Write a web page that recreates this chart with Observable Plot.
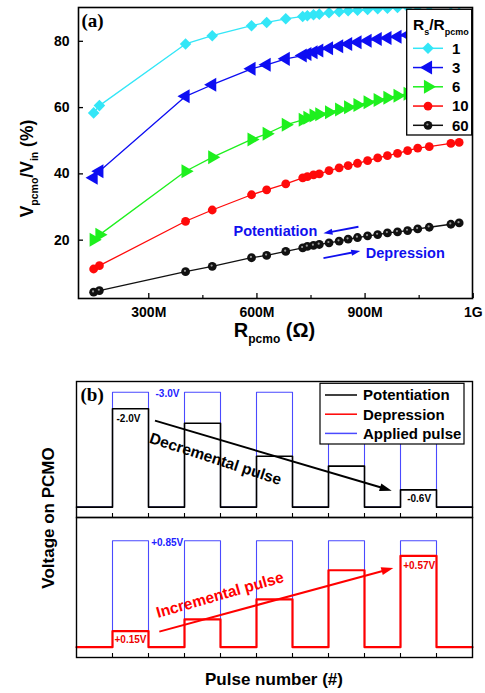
<!DOCTYPE html>
<html><head><meta charset="utf-8">
<script src="https://cdn.jsdelivr.net/npm/d3@7"></script>
<script src="https://cdn.jsdelivr.net/npm/@observablehq/plot@0.6"></script>
<style>
body{margin:0;background:#fff;}
#wrap{position:relative;width:485px;height:693px;overflow:hidden;background:#fff;}
#wrap svg{position:absolute;left:0;}
</style></head><body><div id="wrap"></div>
<script>
// ---------- Panel (a) data ----------
const rPcmo   = [147,163,402,476,585,627,680,727,740,757,773,800,828,853,879,907,935,962,990,1018,1046,1078,1138,1161]; // MΩ
const ratio1  = [58.4,60.6,79.2,81.7,84.7,85.7,86.8,87.5,87.7,88.0,88.2,88.6,88.9,89.2,89.4,89.6,89.8,90.0,90.2,90.4,90.6,90.8,91.2,91.3];
const ratio3  = [38.8,40.8,63.4,66.9,71.7,72.9,74.7,75.7,76.2,76.7,77.2,77.9,78.5,79.2,79.7,80.2,80.7,81.0,81.4,81.9,82.3,82.7,83.5,83.8];
const ratio6  = [20.1,21.6,40.8,45.0,50.4,52.1,54.8,56.3,56.9,57.6,58.0,58.6,59.4,60.1,60.8,61.6,62.3,63.0,63.6,64.2,64.8,65.4,66.5,66.9];
const ratio10 = [11.3,12.3,25.7,29.1,33.7,35.2,37.0,38.8,39.2,39.7,40.0,41.0,41.8,42.5,43.2,44.0,44.8,45.5,46.2,47.0,47.8,48.2,49.2,49.5];
const ratio60 = [4.3,4.8,10.5,12.1,14.7,15.4,16.6,17.7,18.1,18.4,18.7,19.2,19.7,20.3,20.8,21.3,21.7,22.2,22.5,22.9,23.4,23.9,24.8,25.2];
const ratioLabels = ["1","3","6","10","60"];
const xTickValues = [300,600,900,1200];
const xTickLabels = ["300M","600M","900M","1G"];
const xMinorTicks = [450,750,1050];
const yTickValues = [20,40,60,80];
const annotTexts  = [{label:"Potentiation", r:535, v:22.8},{label:"Depression", r:902, v:16.05}];
const annotArrows = [{x1:883, y1:23.9, x2:786, y2:21.9},{x1:786, y1:14.4, x2:888, y2:16.6}];

// ---------- Panel (b) data ----------
const pulseNumber = [1,2,3,4,5];
const appliedPot  = [1,1,1,1,1];               // -3.0 V applied (normalized)
const potLevels   = [0.856,0.730,0.443,0.357,0.150];
const appliedDep  = [1,1,1,1,1];               // +0.85 V applied (normalized)
const depLevels   = [0.151,0.261,0.450,0.723,0.858];
const pulseTicks  = [1,2,3,4,5,6,7,8,9,10];
const legendB     = ["Potentiation","Depression","Applied pulse"];
const topLabels   = [{text:"-3.0V", t:2.194, v:0.982, c:"#2222ff"},{text:"-2.0V", t:1.111, v:0.767, c:"#000"},{text:"-0.6V", t:9.186, v:0.071, c:"#000"}];
const botLabels   = [{text:"+0.85V", t:2.075, v:0.980, c:"#2222ff"},{text:"+0.15V", t:1.056, v:0.068, c:"#ee0000"},{text:"+0.57V", t:9.075, v:0.763, c:"#ee0000"}];
const decArrow    = [{x1:2.194, y1:0.748, x2:8.769, y2:0.139}];
const incArrow    = [{x1:2.314, y1:0.1415, x2:8.814, y2:0.739}];
const decText     = [{text:"Decremental pulse", t:3.861, v:0.418}];
const incText     = [{text:"Incremental pulse", t:3.986, v:0.49}];

// ---------- styles ----------
const SANS = "Liberation Sans, Arial, Helvetica, sans-serif";
const SERIF = "Liberation Serif, Times New Roman, serif";
const seriesStyles = [
  {color:"#33e6f7", symbol:"diamond2", r:5.2, rotate:0},
  {color:"#0d0df2", symbol:"triangle", r:5.2, rotate:-90},
  {color:"#1ef01e", symbol:"triangle", r:5.2, rotate:90},
  {color:"#ff0a0a", symbol:"circle", r:4.4, rotate:0},
  {color:"#111111", symbol:"circle", r:4.4, rotate:0, sphere:true}
];
const W = 485;
const wrap = document.getElementById("wrap");

function richText(sel, {x, y, rotate=0, size, anchor="middle", parts, fill="#000", family=SANS, subRatio=0.6}) {
  const t = sel.append("text")
    .attr("transform", `translate(${x},${y}) rotate(${rotate})`)
    .attr("text-anchor", anchor).attr("font-size", size).attr("font-weight", "bold")
    .attr("font-family", family).attr("fill", fill).style("white-space", "pre");
  let shifted = false;
  parts.forEach(([s, sub]) => {
    const ts = t.append("tspan").text(s);
    if (sub) { ts.attr("font-size", size*subRatio); if (!shifted) { ts.attr("dy", size*0.3); shifted = true; } }
    else if (shifted) { ts.attr("dy", -size*0.3); shifted = false; }
  });
  return t;
}
function plainText(sel, x, y, text, size) {
  return sel.append("text").attr("x",x).attr("y",y).attr("dy","0.36em").attr("text-anchor","start")
    .attr("font-size",size).attr("font-weight","bold").attr("font-family",SANS).attr("fill","#000").text(text);
}
// arrow with filled head, positioned through the chart's own scales
function drawArrows(chart, rows, color, width, headLen, headHalf) {
  const sx = chart.scale("x"), sy = chart.scale("y");
  const g = d3.select(chart).append("g");
  rows.forEach(d => {
    const X1 = sx.apply(d.x1), Y1 = sy.apply(d.y1), X2 = sx.apply(d.x2), Y2 = sy.apply(d.y2);
    const a = Math.atan2(Y2 - Y1, X2 - X1), c = Math.cos(a), s = Math.sin(a);
    const bx = X2 - headLen*c, by = Y2 - headLen*s;
    g.append("line").attr("x1",X1).attr("y1",Y1).attr("x2",bx + 1*c).attr("y2",by + 1*s)
      .attr("stroke",color).attr("stroke-width",width);
    g.append("path").attr("d",`M${X2},${Y2}L${bx - headHalf*s},${by + headHalf*c}L${bx + headHalf*s},${by - headHalf*c}Z`)
      .attr("fill",color);
  });
}

// ---------- Panel (a) ----------
const seriesValues = [ratio1, ratio3, ratio6, ratio10, ratio60];
const series = seriesValues.map((vals,k) => rPcmo.map((r,i) => ({r, v: vals[i], s: ratioLabels[k]})));
const seriesMarks = series.flatMap((rows,k) => {
  const st = seriesStyles[k];
  const m = [
    Plot.line(rows, {x:"r", y:"v", stroke:st.color, strokeWidth:1.3, clip:true}),
    Plot.dot(rows, {x:"r", y:"v", symbol:st.symbol, r:st.r, fill:st.color, stroke:"none", rotate:st.rotate, clip:true})
  ];
  if (st.sphere) m.push(Plot.dot(rows, {x:"r", y:"v", r:1.1, fill:"#9a9a9a", stroke:"none", dx:-0.6, dy:-0.8, clip:true}));
  return m;
});

const chartA = Plot.plot({
  width: W, height: 348, marginLeft: 78, marginRight: 13, marginTop: 7, marginBottom: 50,
  x: {domain: [105, 1198]}, y: {domain: [2.4, 90.2]},
  style: {fontFamily: SANS, fontSize: "14px", fontWeight: "bold", background: "transparent", color: "#000"},
  marks: [
    ...seriesMarks,
    Plot.ruleX(xTickValues, {x: d => d, insetTop: 286, strokeWidth: 1.3}),
    Plot.ruleX(xMinorTicks, {x: d => d, insetTop: 288, strokeWidth: 1.2}),
    Plot.ruleY(yTickValues, {y: d => d, insetRight: 389, strokeWidth: 1.3}),
    Plot.axisX(xTickValues, {tickSize: 0, tickPadding: 9, tickFormat: d => xTickLabels[xTickValues.indexOf(d)], label: null, fontSize: 14}),
    Plot.axisY(yTickValues, {tickSize: 0, tickPadding: 9, label: null, fontSize: 14}),
    Plot.frame({strokeWidth: 1.6}),
    Plot.text(annotTexts, {x:"r", y:"v", text:"label", textAnchor:"start", lineAnchor:"middle", fill:"#1010ee", fontSize:14.5, fontWeight:"bold"}),
    Plot.text(["(a)"], {text: d => d, frameAnchor:"top-left", dx:3, dy:6, textAnchor:"start", lineAnchor:"top", fontFamily:SERIF, fontSize:19, fontWeight:"bold"})
  ]
});
chartA.style.top = "0px";
wrap.appendChild(chartA);
const svgA = d3.select(chartA);
drawArrows(chartA, annotArrows, "#1010ee", 1.8, 9, 3);
richText(svgA, {x:33, y:168.5, rotate:-90, size:17.5, parts:[["V"],["pcmo",1],["/V"],["in",1],[" (%)"]]});
richText(svgA, {x:274.5, y:337, size:20, parts:[["R"],["pcmo",1],[" (Ω)"]]});

// legend (a)
const lg = svgA.append("g");
lg.append("rect").attr("x",406.7).attr("y",9.3).attr("width",65).attr("height",125.7).attr("fill","#fff").attr("stroke","#000").attr("stroke-width",1.3);
richText(lg, {x:413, y:30, size:15.5, anchor:"start", subRatio:0.58, parts:[["R"],["s",1],["/R"],["pcmo",1]]});
const symMap = {diamond2: d3.symbolDiamond2, triangle: d3.symbolTriangle, circle: d3.symbolCircle};
ratioLabels.forEach((lab,k) => {
  const st = seriesStyles[k];
  const yy = 48.3 + k*19.25;
  lg.append("line").attr("x1",413).attr("x2",443).attr("y1",yy).attr("y2",yy).attr("stroke",st.color).attr("stroke-width",1.5);
  lg.append("path").attr("d", d3.symbol(symMap[st.symbol], Math.PI*st.r*st.r)()).attr("fill",st.color)
    .attr("transform",`translate(428,${yy}) rotate(${st.rotate})`);
  if (st.sphere) lg.append("circle").attr("cx",427.4).attr("cy",yy-0.8).attr("r",1.1).attr("fill","#9a9a9a");
  plainText(lg, 452, yy, lab, 15);
});

// ---------- Panel (b) ----------
function wave(levels) {
  const pts = [{t:0, v:0}];
  levels.forEach((L,i) => { const s = 2*pulseNumber[i]-1, e = s+1; pts.push({t:s,v:0},{t:s,v:L},{t:e,v:L},{t:e,v:0}); });
  pts.push({t: 2*pulseNumber.length+1, v:0});
  return pts;
}
const BLUE_P = "#4a4aff";
const commonB = {width: W, marginLeft: 76, marginRight: 13, x: {domain: [0, 11], axis: null},
  style: {fontFamily: SANS, fontSize: "14px", fontWeight: "bold", background: "transparent", color: "#000"}};

const chartBt = Plot.plot({
  ...commonB, height: 152, marginTop: 11, marginBottom: 5,
  y: {domain: [-0.09, 1.093], axis: null},
  marks: [
    Plot.line(wave(appliedPot), {x:"t", y:"v", stroke:BLUE_P, strokeWidth:1.1}),
    Plot.line(wave(potLevels), {x:"t", y:"v", stroke:"#000", strokeWidth:1.6}),
    Plot.ruleX(pulseTicks, {x: d => d, insetTop: 132, strokeWidth: 1.1}),
    Plot.frame({strokeWidth: 1.4}),
    Plot.text(topLabels, {x:"t", y:"v", text:"text", fill:"c", textAnchor:"start", lineAnchor:"middle", fontSize:10, fontWeight:"bold"}),
    Plot.text(decText, {x:"t", y:"v", text:"text", rotate:18, fontSize:15.5, fontWeight:"bold", fill:"#000"}),
    Plot.text(["(b)"], {text: d => d, frameAnchor:"top-left", dx:4, dy:6, textAnchor:"start", lineAnchor:"top", fontFamily:SERIF, fontSize:19, fontWeight:"bold"})
  ]
});
chartBt.style.top = "370px";

const chartBb = Plot.plot({
  ...commonB, height: 150, marginTop: 5, marginBottom: 5,
  y: {domain: [-0.097, 1.219], axis: null},
  marks: [
    Plot.line(wave(appliedDep), {x:"t", y:"v", stroke:BLUE_P, strokeWidth:1.1}),
    Plot.line(wave(depLevels), {x:"t", y:"v", stroke:"#ff0000", strokeWidth:2.2}),
    Plot.ruleX(pulseTicks, {x: d => d, insetTop: 136, strokeWidth: 1.1}),
    Plot.frame({strokeWidth: 1.4}),
    Plot.text(botLabels, {x:"t", y:"v", text:"text", fill:"c", textAnchor:"start", lineAnchor:"middle", fontSize:10, fontWeight:"bold"}),
    Plot.text(incText, {x:"t", y:"v", text:"text", rotate:-16, fontSize:15.5, fontWeight:"bold", fill:"#ff0000"})
  ]
});
chartBb.style.top = "512px";
wrap.appendChild(chartBb);
wrap.appendChild(chartBt);
drawArrows(chartBt, decArrow, "#000", 2, 12, 4);
drawArrows(chartBb, incArrow, "#ff0000", 2, 12, 4);

// legend (b)
const svgBt = d3.select(chartBt);
const lb = svgBt.append("g");
lb.append("rect").attr("x",320).attr("y",13.3).attr("width",144).attr("height",60.7).attr("fill","#fff").attr("stroke","#000").attr("stroke-width",1.2);
const legendColors = ["#000","#ff0000",BLUE_P];
legendB.forEach((lab,k) => {
  const yy = 25 + k*19.2;
  lb.append("line").attr("x1",325).attr("x2",357).attr("y1",yy).attr("y2",yy).attr("stroke",legendColors[k]).attr("stroke-width",1.5);
  plainText(lb, 363, yy, lab, 15);
});

// axis titles (b)
const ov = d3.create("svg").attr("width",W).attr("height",693).style("top","0px").style("pointer-events","none");
ov.append("text").attr("transform","translate(54,518) rotate(-90)").attr("text-anchor","middle")
  .attr("font-size",17).attr("font-weight","bold").attr("font-family",SANS).text("Voltage on PCMO");
ov.append("text").attr("x",274).attr("y",685).attr("text-anchor","middle")
  .attr("font-size",17).attr("font-weight","bold").attr("font-family",SANS).text("Pulse number (#)");
wrap.appendChild(ov.node());
</script></body></html>
